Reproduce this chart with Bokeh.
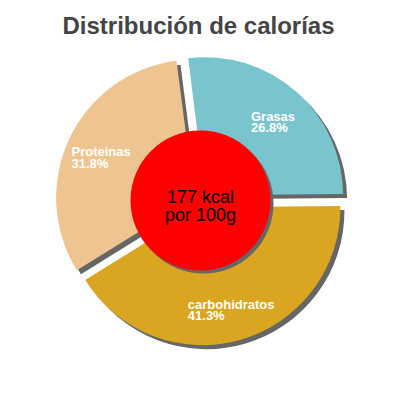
import math
from bokeh.plotting import figure
from bokeh.models import ColumnDataSource, Range1d
from bokeh.core.properties import value
from bokeh.embed import file_html
from bokeh.resources import INLINE

# ---- data ----
title_text = "Distribución de calorías"
labels = ["Grasas", "carbohidratos", "Proteinas"]
percents = [26.8, 41.3, 31.8]
colors = ["#7AC5CD", "#DAA520", "#EEC591"]
kcal = 177
center_lines = [f"{kcal} kcal", "por 100g"]

# ---- layout constants ----
W = H = 384
CX, CY = 200.0, 200.0          # pie centre (data units == px)
R = 138.0                      # outer radius
EXPLODE = 7.0                  # slice offset
LABEL_R = 103.0                # label distance from slice centre
START = 97.0                   # degrees, math convention
SH_DX, SH_DY = 4.0, -4.0       # shadow offset
HOLE_R = 70.0
FONT = "Liberation Sans"

# approximate Arial/Liberation Sans Bold advance widths (per 1000 em)
BW = {"a": 556, "b": 611, "c": 556, "d": 611, "e": 556, "h": 611, "i": 278,
      "n": 611, "o": 611, "r": 389, "s": 556, "t": 333, "G": 778, "P": 667,
      "%": 889, ".": 278}
def text_w(s, size):
    return sum(BW.get(ch, 556) for ch in s) * size / 1000.0

p = figure(width=W, height=H, output_backend="svg", toolbar_location=None,
           x_range=Range1d(0, 384), y_range=Range1d(16, 400),
           min_border=0, min_border_left=0, min_border_right=0,
           min_border_top=0, min_border_bottom=0)
p.axis.visible = False
p.grid.visible = False
p.outline_line_color = None
p.background_fill_color = "white"
p.border_fill_color = "white"

xs, ys, a_start, a_end, mids = [], [], [], [], []
cum = 0.0
for pct in percents:
    a0 = START - cum * 3.6
    a1 = a0 - pct * 3.6
    m = math.radians((a0 + a1) / 2.0)
    xs.append(CX + EXPLODE * math.cos(m))
    ys.append(CY + EXPLODE * math.sin(m))
    a_start.append(math.radians(a1))
    a_end.append(math.radians(a0))
    mids.append(m)
    cum += pct

src = ColumnDataSource(dict(x=xs, y=ys, sx=[x + SH_DX for x in xs],
                            sy=[y + SH_DY for y in ys],
                            start=a_start, end=a_end, color=colors))

# shadows
p.wedge(x="sx", y="sy", radius=R, start_angle="start", end_angle="end",
        fill_color="#666666", line_color=None, source=src)
# slices
p.wedge(x="x", y="y", radius=R, start_angle="start", end_angle="end",
        fill_color="color", line_color=None, source=src)

# centre circle with shadow
p.circle(x=[CX + 3], y=[CY - 3], radius=HOLE_R, fill_color="#666666", line_color=None)
p.circle(x=[CX], y=[CY], radius=HOLE_R, fill_color="#FF0000", line_color=None)

p.text(x=[CX, CX], y=[CY + 4, CY - 14], text=center_lines,
       text_font=value(FONT), text_font_size="18px", text_color="black",
       text_align="center", text_baseline="alphabetic")

# slice labels
lx, l1y, l2y, t1, t2 = [], [], [], [], []
for lab, pct, x, y, m in zip(labels, percents, xs, ys, mids):
    ax = x + LABEL_R * math.cos(m)
    ay = y + LABEL_R * math.sin(m)
    s2 = f"{pct}%"
    w = max(text_w(lab, 13), text_w(s2, 13))
    lx.append(ax - w / 2.0)
    l1y.append(ay + 1.5)
    l2y.append(ay - 9.8)
    t1.append(lab)
    t2.append(s2)

for yy, tt in ((l1y, t1), (l2y, t2)):
    p.text(x=lx, y=yy, text=tt, text_font=value(FONT), text_font_size="13px",
           text_font_style="bold", text_color="white",
           text_align="left", text_baseline="alphabetic")

# title
p.text(x=[198], y=[400 - 25], text=[title_text], text_font=value(FONT),
       text_font_size="24px", text_font_style="bold", text_color="#444444",
       text_align="center", text_baseline="alphabetic")

open("out.html", "w").write(file_html(p, INLINE))
